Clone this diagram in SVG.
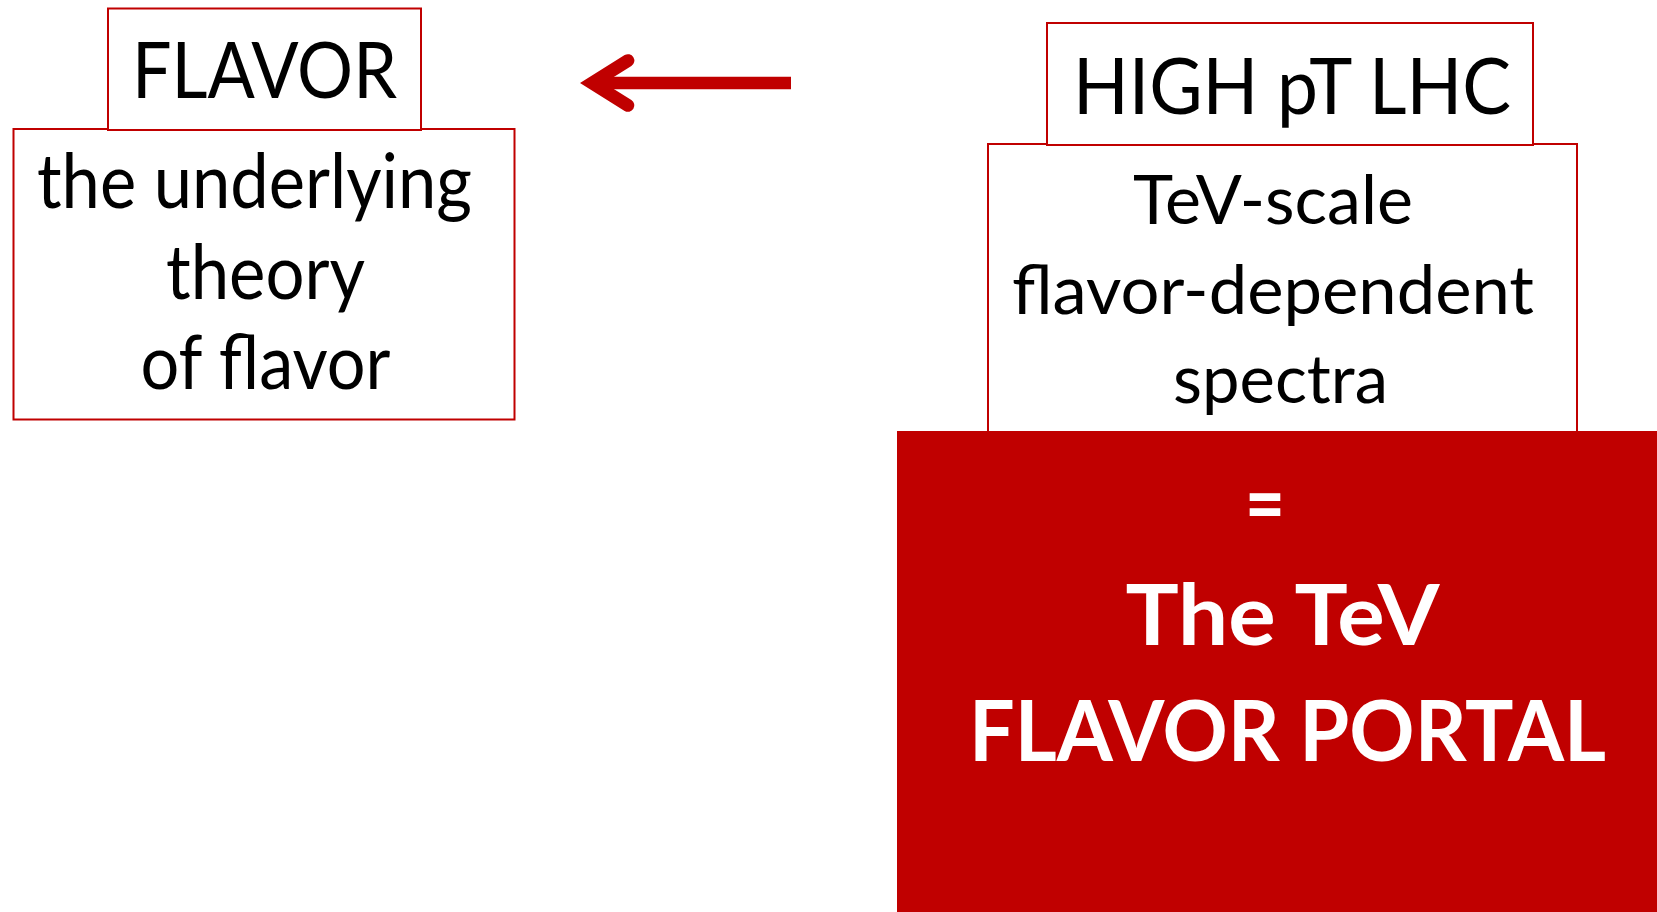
<svg xmlns="http://www.w3.org/2000/svg" width="1657" height="912" viewBox="0 0 1657 912">
<style>
.box{fill:#fff;stroke:#C00000;stroke-width:2}
.t{font-family:Lato,"Open Sans","Liberation Sans",sans-serif;fill:#000}
.w{font-family:Lato,"Open Sans","Liberation Sans",sans-serif;fill:#fff;font-weight:bold}
</style>
<rect width="1657" height="912" fill="#fff"/>
<g id="flavor-body">
<rect class="box" x="13.5" y="129" width="501" height="290.5"/>
<text class="t" font-size="75" x="37" y="208" textLength="435" lengthAdjust="spacingAndGlyphs">the underlying</text>
<text class="t" font-size="75" x="166" y="299" textLength="199" lengthAdjust="spacingAndGlyphs">theory</text>
<text class="t" font-size="75" x="140.5" y="389" textLength="250" lengthAdjust="spacingAndGlyphs">of flavor</text>
</g>
<g id="flavor-title">
<rect class="box" x="108" y="8.5" width="313" height="121.5"/>
<text class="t" font-size="78" x="132" y="98" textLength="265" lengthAdjust="spacingAndGlyphs">FLAVOR</text>
</g>
<g id="lhc-body">
<rect class="box" x="988" y="144" width="589" height="300"/>
<text class="t" font-size="68" x="1133" y="224" textLength="280" lengthAdjust="spacingAndGlyphs">TeV-scale</text>
<text class="t" font-size="68" x="1012" y="314" textLength="522" lengthAdjust="spacingAndGlyphs">flavor-dependent</text>
<text class="t" font-size="68" x="1173" y="403" textLength="215" lengthAdjust="spacingAndGlyphs">spectra</text>
</g>
<g id="lhc-title">
<rect class="box" x="1047" y="23" width="486" height="122"/>
<text class="t" font-size="78" x="1073" y="114" textLength="438" lengthAdjust="spacingAndGlyphs">HIGH pT LHC</text>
</g>
<g id="portal">
<rect x="897" y="431" width="760" height="481" fill="#C00000"/>
<text class="w" font-size="84" x="1245" y="533" textLength="40" lengthAdjust="spacingAndGlyphs">=</text>
<text class="w" font-size="84" x="1125.5" y="645" textLength="314" lengthAdjust="spacingAndGlyphs">The TeV</text>
<text class="w" font-size="84" x="969" y="761" textLength="637" lengthAdjust="spacingAndGlyphs">FLAVOR PORTAL</text>
</g>
<g id="connectors">
<line x1="791" y1="83" x2="600" y2="83" stroke="#C00000" stroke-width="12.7"/>
<polyline points="628,60.5 592,83 628,105.5" fill="none" stroke="#C00000" stroke-width="12.7" stroke-linecap="round" stroke-linejoin="miter"/>
</g>
</svg>
